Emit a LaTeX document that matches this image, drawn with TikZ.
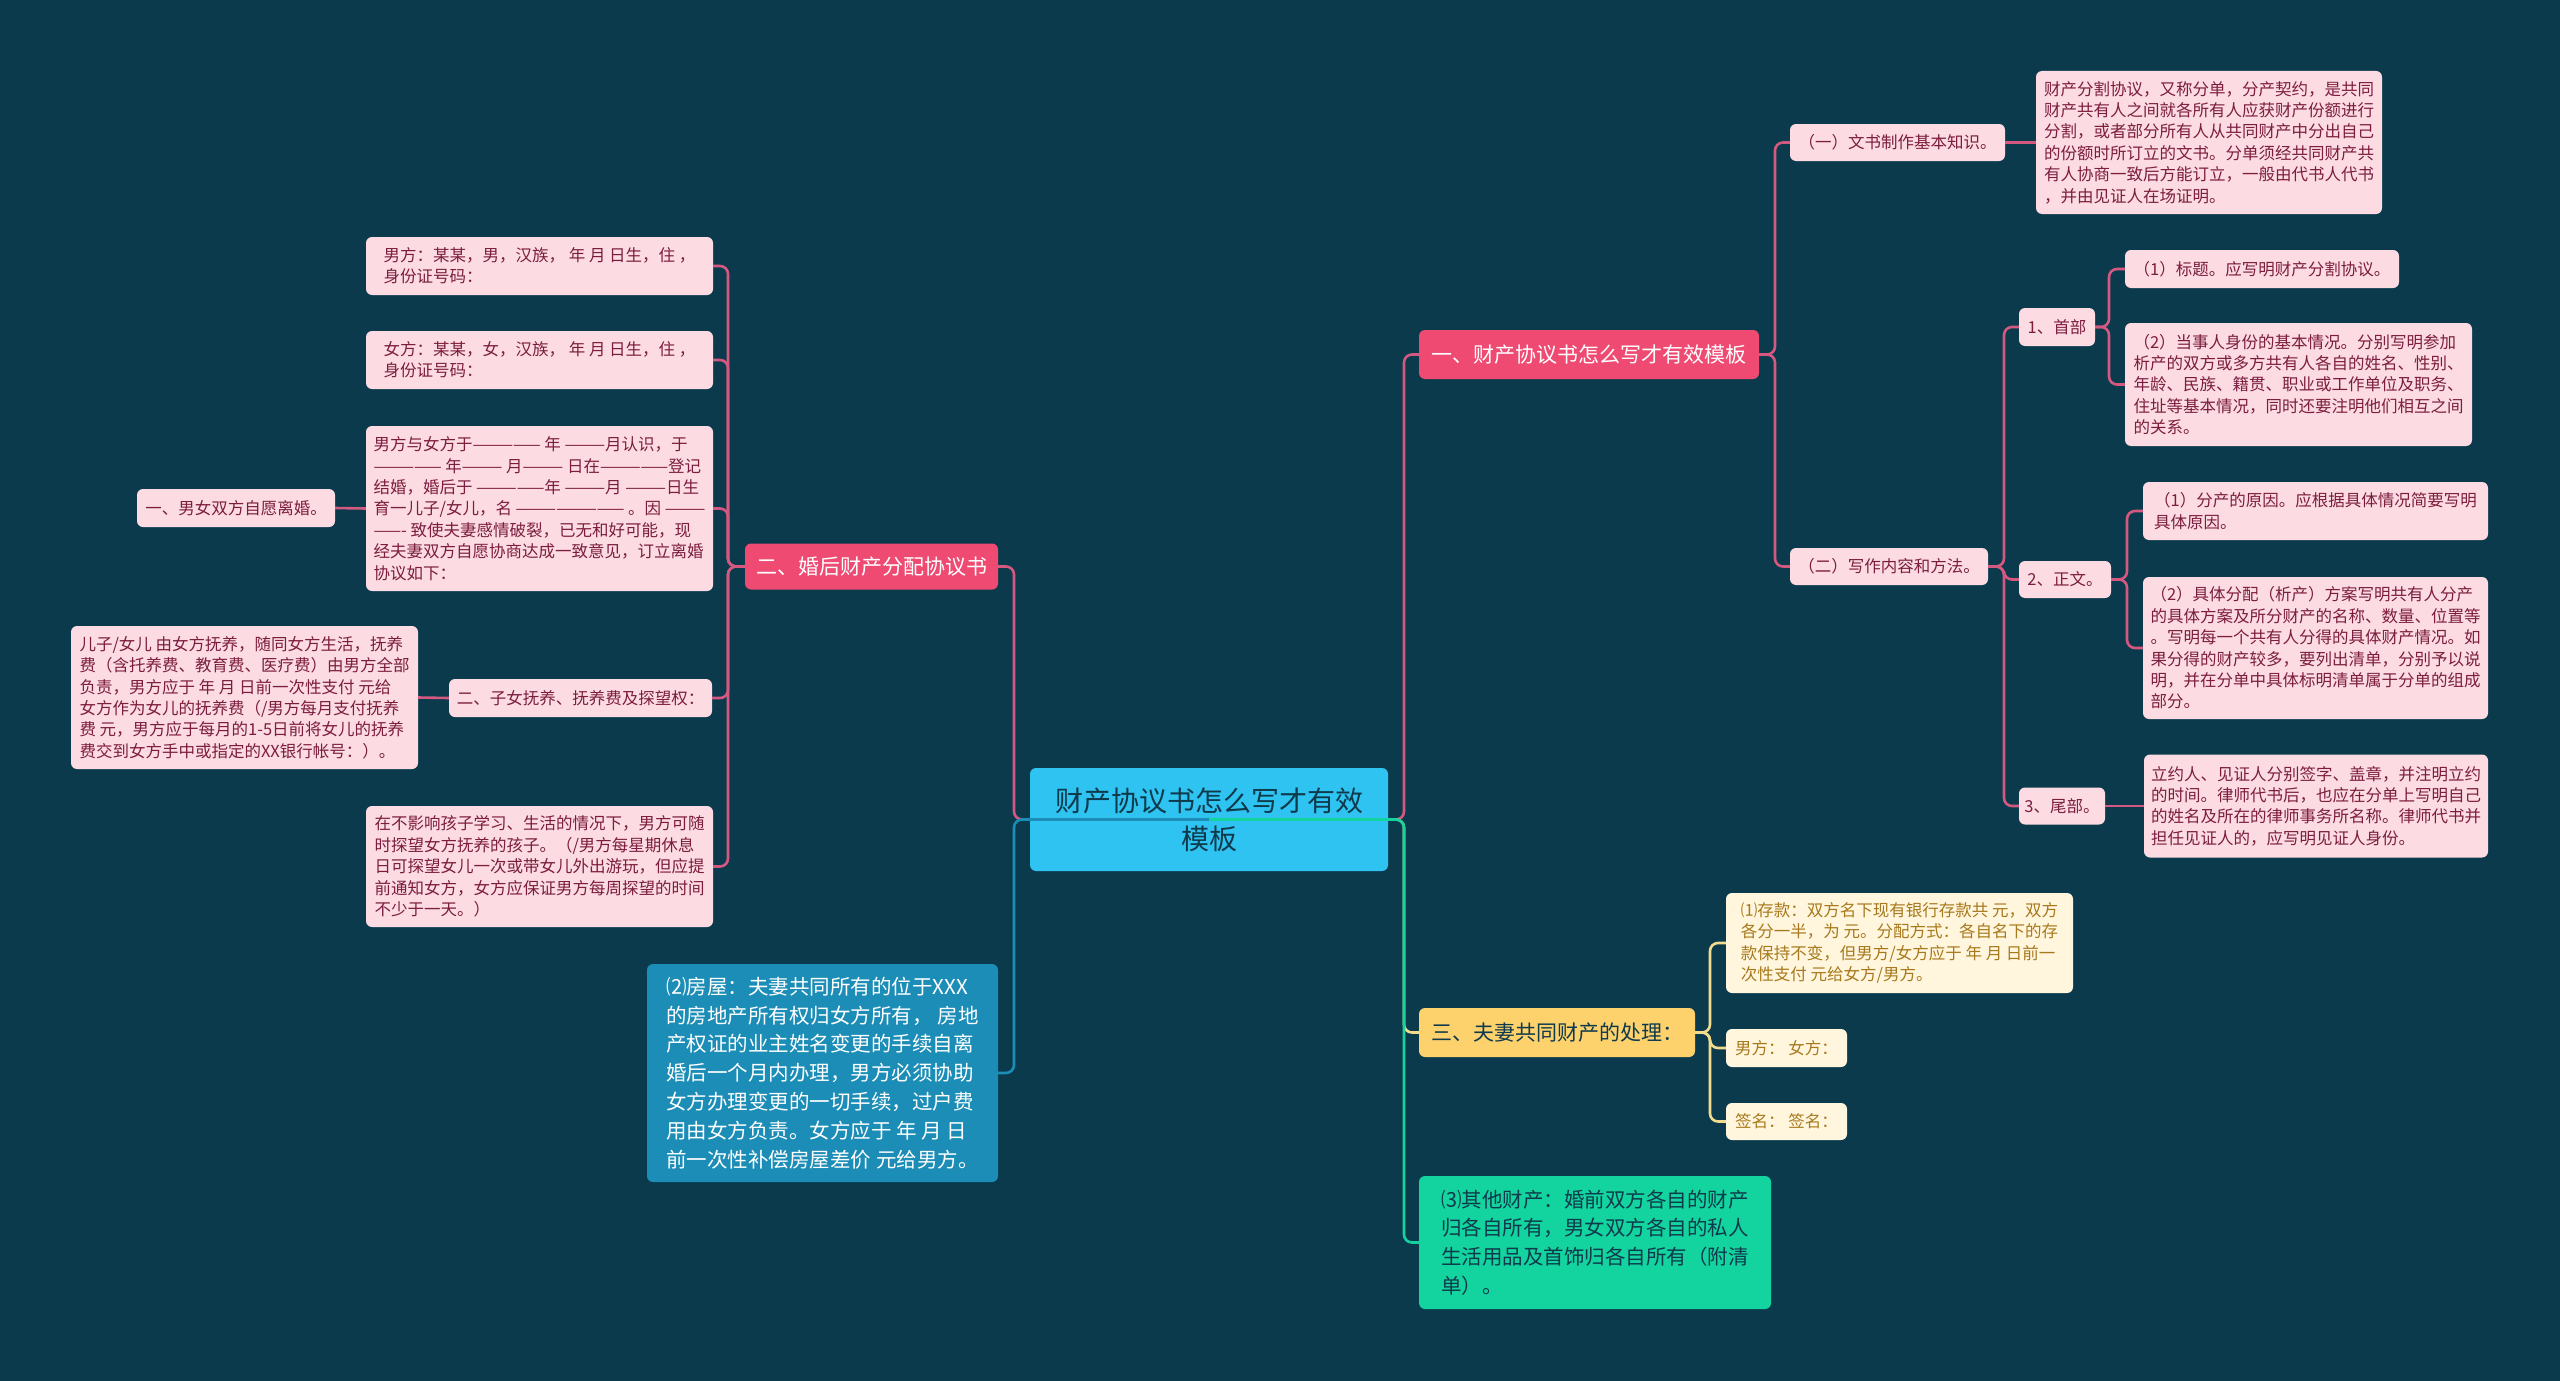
\documentclass[tikz,border=0pt]{standalone}
\usepackage{fontspec}
\setmainfont{Noto Sans CJK SC}
\definecolor{bg}{HTML}{0B3A4D}
\definecolor{pkfill}{HTML}{FCDCE2}
\definecolor{pktext}{HTML}{7C1D3F}
\definecolor{pkline}{HTML}{D4587F}
\definecolor{redfill}{HTML}{EE4A72}
\definecolor{cenfill}{HTML}{2EC3F1}
\definecolor{dark}{HTML}{0F3A4C}
\definecolor{yelfill}{HTML}{FDD26D}
\definecolor{crfill}{HTML}{FFF6DD}
\definecolor{crtext}{HTML}{A8791C}
\definecolor{yelline}{HTML}{F2DB8C}
\definecolor{bluefill}{HTML}{1B8DB6}
\definecolor{greenfill}{HTML}{13D39E}
\newcommand\fsS{\fontsize{16.5}{21.4}\selectfont}
\newcommand\fsM{\fontsize{20.5}{28.8}\selectfont}
\newcommand\fsL{\fontsize{21}{26}\selectfont}
\newcommand\fsC{\fontsize{28}{38}\selectfont}
\tikzset{
  basebox/.style={rounded corners=6pt, inner sep=0pt, align=left, anchor=center},
  pk/.style={basebox, fill=pkfill, text=pktext, font=\fsS},
  cr/.style={basebox, fill=crfill, text=crtext, font=\fsS},
  redbox/.style={basebox, fill=redfill, text=white, font=\fsL},
  yelbox/.style={basebox, fill=yelfill, text=dark, font=\fsL},
  bluebox/.style={basebox, fill=bluefill, text=white, font=\fsM},
  greenbox/.style={basebox, fill=greenfill, text=dark, font=\fsM},
  cenbox/.style={basebox, align=center, fill=cenfill, text=dark, font=\fsC},
  conn/.style={line width=2.6pt, rounded corners=8pt},
  pkc/.style={conn, draw=pkline},
  yelc/.style={conn, draw=yelline},
  bluec/.style={conn, draw=bluefill},
  greenc/.style={conn, draw=greenfill},
}
\begin{document}
\begin{tikzpicture}[x=1pt,y=-1pt]
\fill[bg] (0,0) rectangle (2560,1381);
\useasboundingbox (0,0) rectangle (2560,1381);

% trunk coordinates
\coordinate (tL) at (1014,0);
\coordinate (tR) at (1404,0);
\coordinate (t1) at (1775,0);
\coordinate (t12) at (2004,0);
\coordinate (t121) at (2109,0);
\coordinate (t122) at (2127,0);
\coordinate (t2) at (1710,0);
\coordinate (tl1) at (728,0);

% ---------- nodes ----------
\node[cenbox, minimum width=358, minimum height=103] (c) at (1209,819.5) {财产协议书怎么写才有效\\模板};

% right upper branch
\node[redbox, minimum width=340, minimum height=49] (r1) at (1589,354.5) {一、财产协议书怎么写才有效模板};
\node[pk, minimum width=215, minimum height=37] (r11) at (1897.5,142.5) {（一）文书制作基本知识。};
\node[pk, minimum width=346, minimum height=143] (r11a) at (2209,142.5) {财产分割协议，又称分单，分产契约，是共同\\财产共有人之间就各所有人应获财产份额进行\\分割，或者部分所有人从共同财产中分出自己\\的份额时所订立的文书。分单须经共同财产共\\有人协商一致后方能订立，一般由代书人代书\\，并由见证人在场证明。};
\node[pk, minimum width=198, minimum height=37] (r12) at (1889,566.5) {（二）写作内容和方法。};
\node[pk, minimum width=76, minimum height=38] (r121) at (2057,327) {1、首部};
\node[pk, minimum width=274, minimum height=38] (r1211) at (2262,269) {（1）标题。应写明财产分割协议。};
\node[pk, minimum width=347, minimum height=123] (r1212) at (2298.5,384.5) {（2）当事人身份的基本情况。分别写明参加\\析产的双方或多方共有人各自的姓名、性别、\\年龄、民族、籍贯、职业或工作单位及职务、\\住址等基本情况，同时还要注明他们相互之间\\的关系。};
\node[pk, minimum width=92, minimum height=37] (r122) at (2065,579.5) {2、正文。};
\node[pk, minimum width=345, minimum height=58] (r1221) at (2315.5,511) {（1）分产的原因。应根据具体情况简要写明\\具体原因。};
\node[pk, minimum width=345, minimum height=142] (r1222) at (2315.5,648) {（2）具体分配（析产）方案写明共有人分产\\的具体方案及所分财产的名称、数量、位置等\\。写明每一个共有人分得的具体财产情况。如\\果分得的财产较多，要列出清单，分别予以说\\明，并在分单中具体标明清单属于分单的组成\\部分。};
\node[pk, minimum width=86, minimum height=37] (r123) at (2062,806) {3、尾部。};
\node[pk, minimum width=344, minimum height=103] (r1231) at (2316,806) {立约人、见证人分别签字、盖章，并注明立约\\的时间。律师代书后，也应在分单上写明自己\\的姓名及所在的律师事务所名称。律师代书并\\担任见证人的，应写明见证人身份。};

% right lower branches
\node[yelbox, minimum width=276, minimum height=49] (r2) at (1557,1032.5) {三、夫妻共同财产的处理：};
\node[cr, minimum width=347, minimum height=100] (r21) at (1899.5,943) {⑴存款：双方名下现有银行存款共 元，双方\\各分一半，为 元。分配方式：各自名下的存\\款保持不变，但男方/女方应于 年 月 日前一\\次性支付 元给女方/男方。};
\node[cr, minimum width=121, minimum height=38] (r22) at (1786.5,1048) {男方： 女方：};
\node[cr, minimum width=121, minimum height=37] (r23) at (1786.5,1121.5) {签名： 签名：};
\node[greenbox, minimum width=352, minimum height=133] (r3) at (1595,1242.5) {⑶其他财产：婚前双方各自的财产\\归各自所有，男女双方各自的私人\\生活用品及首饰归各自所有（附清\\单）。};

% left branches
\node[redbox, minimum width=253, minimum height=46] (l1) at (871.5,566.5) {二、婚后财产分配协议书};
\node[pk, minimum width=347, minimum height=58] (l11) at (539.5,266) {男方：某某，男，汉族， 年 月 日生，住 ，\\身份证号码：};
\node[pk, minimum width=347, minimum height=58] (l12) at (539.5,360) {女方：某某，女，汉族， 年 月 日生，住 ，\\身份证号码：};
\node[pk, minimum width=347, minimum height=165] (l13) at (539.5,508.5) {男方与女方于————— 年 ———月认识，于\\————— 年——— 月——— 日在—————登记\\结婚，婚后于 —————年 ———月 ———日生\\育一儿子/女儿，名 ———————— 。因 ———\\——- 致使夫妻感情破裂，已无和好可能，现\\经夫妻双方自愿协商达成一致意见，订立离婚\\协议如下：};
\node[pk, minimum width=198, minimum height=38] (l131) at (236,508) {一、男女双方自愿离婚。};
\node[pk, minimum width=263, minimum height=38] (l14) at (580.5,698) {二、子女抚养、抚养费及探望权：};
\node[pk, minimum width=347, minimum height=143] (l141) at (244.5,697.5) {儿子/女儿 由女方抚养，随同女方生活，抚养\\费（含托养费、教育费、医疗费）由男方全部\\负责，男方应于 年 月 日前一次性支付 元给\\女方作为女儿的抚养费（/男方每月支付抚养\\费 元，男方应于每月的1-5日前将女儿的抚养\\费交到女方手中或指定的XX银行帐号：）。};
\node[pk, minimum width=347, minimum height=121] (l15) at (539.5,866.5) {在不影响孩子学习、生活的情况下，男方可随\\时探望女方抚养的孩子。（/男方每星期休息\\日可探望女儿一次或带女儿外出游玩，但应提\\前通知女方，女方应保证男方每周探望的时间\\不少于一天。）};
\node[bluebox, minimum width=351, minimum height=218] (l2) at (822.5,1073) {⑵房屋：夫妻共同所有的位于XXX\\的房地产所有权归女方所有， 房地\\产权证的业主姓名变更的手续自离\\婚后一个月内办理，男方必须协助\\女方办理变更的一切手续，过户费\\用由女方负责。女方应于 年 月 日\\前一次性补偿房屋差价 元给男方。};

% ---------- connectors ----------
% right upper
\draw[pkc] (r1.east) -- (r1.east -| t1) |- (r11.west);
\draw[pkc] (r1.east) -- (r1.east -| t1) |- (r12.west);
\draw[pkc] (r11.east) -- (r11a.west);
\draw[pkc] (r12.east) -- (r12.east -| t12) |- (r121.west);
\draw[pkc] (r12.east) -- (r12.east -| t12) |- (r122.west);
\draw[pkc] (r12.east) -- (r12.east -| t12) |- (r123.west);
\draw[pkc] (r121.east) -- (r121.east -| t121) |- (r1211.west);
\draw[pkc] (r121.east) -- (r121.east -| t121) |- (r1212.west);
\draw[pkc] (r122.east) -- (r122.east -| t122) |- (r1221.west);
\draw[pkc] (r122.east) -- (r122.east -| t122) |- (r1222.west);
\draw[pkc] (r123.east) -- (r1231.west);
% right lower
\draw[yelc] (r2.east) -- (r2.east -| t2) |- (r21.west);
\draw[yelc] (r2.east) -- (r2.east -| t2) |- (r22.west);
\draw[yelc] (r2.east) -- (r2.east -| t2) |- (r23.west);
% left
\draw[pkc] (l1.west) -- (l1.west -| tl1) |- (l11.east);
\draw[pkc] (l1.west) -- (l1.west -| tl1) |- (l12.east);
\draw[pkc] (l1.west) -- (l1.west -| tl1) |- (l13.east);
\draw[pkc] (l1.west) -- (l1.west -| tl1) |- (l14.east);
\draw[pkc] (l1.west) -- (l1.west -| tl1) |- (l15.east);
\draw[pkc] (l13.west) -- (l131.east);
\draw[pkc] (l14.west) -- (l141.east);

% central connectors (drawn over the central box)
\draw[pkc] (c.center) -- (c.center -| tL) |- (l1.east);
\draw[pkc] (c.center) -- (c.center -| tR) |- (r1.west);
\draw[bluec] (c.center) -- (c.center -| tL) |- (l2.east);
\draw[yelc] (c.center) -- (c.center -| tR) |- (r2.west);
\draw[greenc] (c.center) -- (c.center -| tR) |- (r3.west);
\end{tikzpicture}
\end{document}
